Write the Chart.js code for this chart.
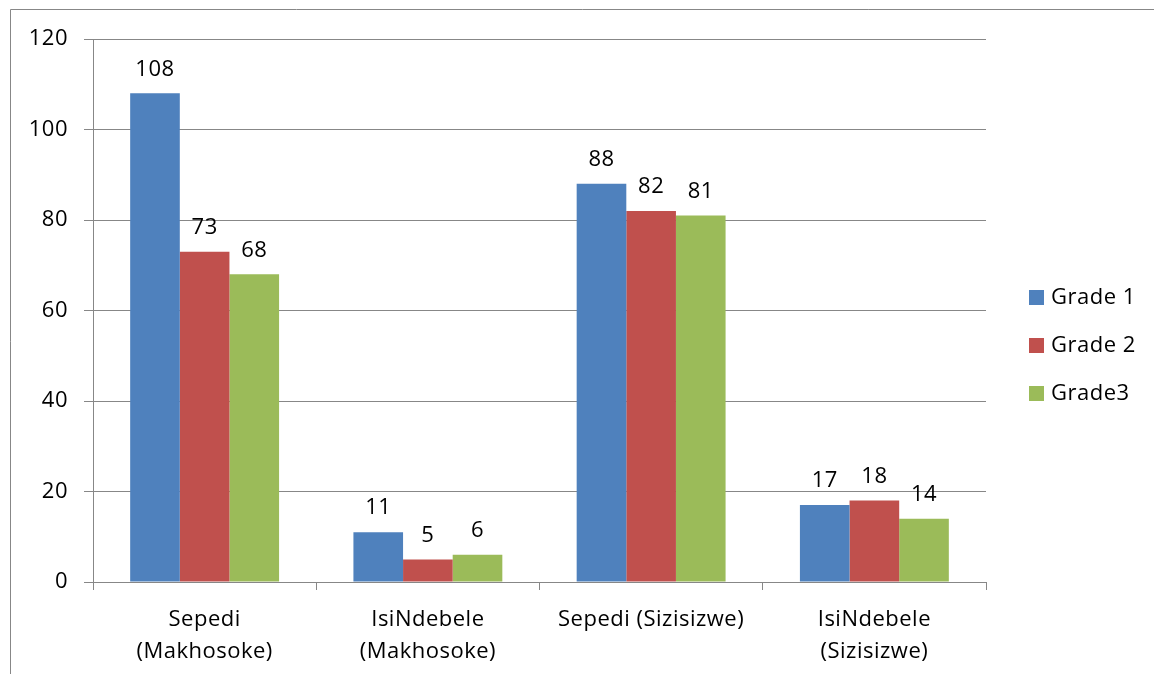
<!DOCTYPE html>
<html>
<head>
<meta charset="utf-8">
<script src="https://cdn.jsdelivr.net/npm/chart.js@4.4.1/dist/chart.umd.min.js"></script>
<style>
  html, body { margin: 0; padding: 0; background: #ffffff; }
  #wrap { width: 1154px; height: 674px; }
</style>
</head>
<body>
<div id="wrap"><canvas id="c" width="1154" height="674"></canvas></div>
<script>
// Learner counts per school / language group
const categories = [
  ['Sepedi', '(Makhosoke)'],
  ['IsiNdebele', '(Makhosoke)'],
  'Sepedi (Sizisizwe)',
  ['IsiNdebele', '(Sizisizwe)']
];
const seriesNames = ['Grade 1', 'Grade 2', 'Grade3'];
const grade1 = [108, 11, 88, 17];
const grade2 = [73, 5, 82, 18];
const grade3 = [68, 6, 81, 14];
const yTicks = [0, 20, 40, 60, 80, 100, 120];

const colors = ['#4F81BD', '#C0504D', '#9BBB59'];
const lineGray = '#878787';
const FONT = "'Open Sans', 'Noto Sans', sans-serif";
const FS = 22;
const SPACING = '0.5px';

// outer frame (left and top edges visible) + text spacing for the whole chart
const framePlugin = {
  id: 'frame',
  beforeDraw(chart) {
    const ctx = chart.ctx;
    ctx.letterSpacing = SPACING;
    ctx.save();
    ctx.strokeStyle = lineGray;
    ctx.lineWidth = 1;
    ctx.beginPath();
    ctx.moveTo(10.5, 674);
    ctx.lineTo(10.5, 9.5);
    ctx.lineTo(1154, 9.5);
    ctx.stroke();
    ctx.restore();
  }
};

// value labels above each bar
const valueLabels = {
  id: 'valueLabels',
  afterDatasetsDraw(chart) {
    const ctx = chart.ctx;
    ctx.save();
    ctx.letterSpacing = SPACING;
    ctx.font = FS + 'px ' + FONT;
    ctx.fillStyle = '#000';
    ctx.textAlign = 'center';
    ctx.textBaseline = 'middle';
    chart.data.datasets.forEach((ds, i) => {
      const meta = chart.getDatasetMeta(i);
      meta.data.forEach((bar, j) => {
        ctx.fillText(String(ds.data[j]), bar.x, bar.y - 24);
      });
    });
    ctx.restore();
  }
};

// legend on the right
const sideLegend = {
  id: 'sideLegend',
  afterDraw(chart) {
    const ctx = chart.ctx;
    ctx.save();
    ctx.letterSpacing = SPACING;
    ctx.font = FS + 'px ' + FONT;
    ctx.textBaseline = 'middle';
    ctx.textAlign = 'left';
    chart.data.datasets.forEach((ds, i) => {
      const cy = 297 + i * 48;
      ctx.fillStyle = ds.backgroundColor;
      ctx.fillRect(1029, cy - 7, 15, 15);
      ctx.fillStyle = '#000';
      ctx.fillText(ds.label, 1051, cy + 1);
    });
    ctx.restore();
  }
};

const values = [grade1, grade2, grade3];

new Chart(document.getElementById('c'), {
  type: 'bar',
  data: {
    labels: categories,
    datasets: seriesNames.map((name, i) => ({
      label: name,
      data: values[i],
      backgroundColor: colors[i],
      borderWidth: 0,
      categoryPercentage: 0.667,
      barPercentage: 1.0
    }))
  },
  options: {
    responsive: false,
    animation: false,
    devicePixelRatio: 1,
    layout: { padding: { left: 0, top: 39, right: 168, bottom: 0 } },
    plugins: {
      legend: { display: false },
      tooltip: { enabled: false }
    },
    scales: {
      x: {
        offset: true,
        grid: {
          offset: true,
          drawOnChartArea: false,
          drawTicks: true,
          tickLength: 8,
          color: lineGray
        },
        border: { display: true, color: lineGray, width: 1 },
        ticks: {
          color: '#000',
          font: { family: FONT, size: FS, lineHeight: 1.44 },
          padding: 14,
          maxRotation: 0,
          autoSkip: false
        },
        afterFit(scale) { scale.height = 92; }
      },
      y: {
        min: 0,
        max: 120,
        afterBuildTicks(scale) { scale.ticks = yTicks.map(v => ({ value: v })); },
        grid: {
          color: lineGray,
          tickLength: 9,
          drawTicks: true
        },
        border: { display: true, color: lineGray, width: 1 },
        ticks: {
          color: '#000',
          font: { family: FONT, size: FS },
          padding: 16
        },
        afterFit(scale) { scale.width = 93; }
      }
    }
  },
  plugins: [framePlugin, valueLabels, sideLegend]
});
</script>
</body>
</html>
